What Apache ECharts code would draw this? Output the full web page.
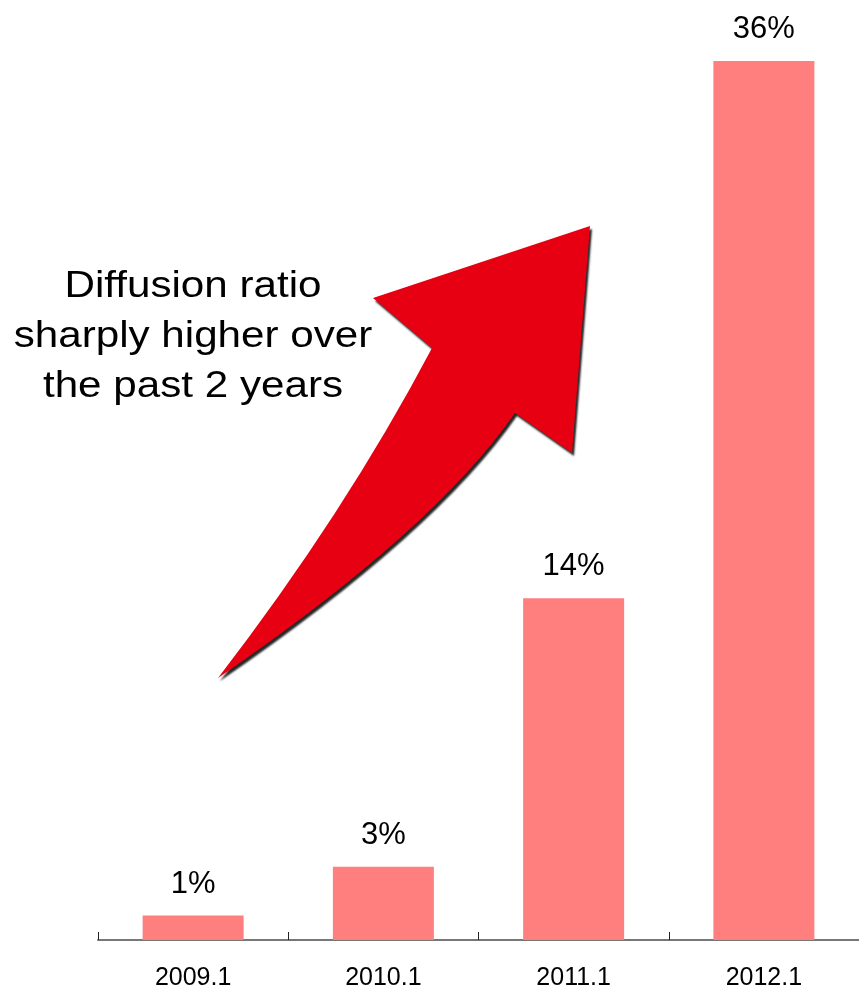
<!DOCTYPE html>
<html>
<head>
<meta charset="utf-8">
<script src="https://cdn.jsdelivr.net/npm/echarts@6/dist/echarts.min.js"></script>
<style>
  html, body { margin:0; padding:0; background:#fff; }
  #main { width:859px; height:991px; }
</style>
</head>
<body>
<div id="main"></div>
<script>
// data
const years  = ['2009.1', '2010.1', '2011.1', '2012.1']
const ratios = [1, 3, 14, 36]
const noteLines = ['Diffusion ratio', 'sharply higher over', 'the past 2 years']

// 红色上升箭头（装饰图形）
const ArrowShape = echarts.graphic.extendShape({
  shape: {},
  buildPath(ctx) {
    ctx.moveTo(218, 678)
    ctx.quadraticCurveTo(345, 513, 432, 348)
    ctx.lineTo(373, 298)
    ctx.lineTo(590, 226)
    ctx.lineTo(572, 453)
    ctx.lineTo(515, 413)
    ctx.quadraticCurveTo(434, 530, 218, 678)
    ctx.closePath()
  }
})
echarts.graphic.registerShape('riseArrow', ArrowShape)

const chart = echarts.init(document.getElementById('main'))

chart.setOption({
  animation: false,
  grid: { left: 98, right: -3, top: 61, bottom: 51 },
  xAxis: {
    type: 'category',
    data: years,
    boundaryGap: true,
    axisLine: { lineStyle: { color: '#777', width: 2 } },
    axisTick: { show: true, inside: true, length: 8, lineStyle: { color: '#222', width: 1 } },
    axisLabel: { color: '#000', fontSize: 25, fontFamily: 'Liberation Sans, Arial', margin: 26 }
  },
  yAxis: {
    type: 'value', min: 0, max: 36,
    show: false, splitLine: { show: false }
  },
  series: [{
    type: 'bar',
    data: ratios,
    barWidth: 101,
    itemStyle: { color: '#FF7F7F' },
    label: {
      show: true, position: 'top', distance: 16,
      formatter: p => p.value + '%',
      color: '#000', fontSize: 31, fontFamily: 'Liberation Sans, Arial'
    }
  }],
  graphic: [
    {
      type: 'riseArrow',
      shape: {},
      style: {
        fill: '#E60012',
        shadowColor: 'rgba(0,0,0,0.85)',
        shadowBlur: 2, shadowOffsetX: 2, shadowOffsetY: 3
      }
    },
    {
      type: 'text',
      x: 193, y: 262,
      scaleX: 1.14,
      style: {
        text: noteLines.join('\n'),
        align: 'center',
        fill: '#000',
        fontSize: 37,
        lineHeight: 50,
        fontFamily: 'Liberation Sans, Arial'
      }
    }
  ]
})
</script>
</body>
</html>
